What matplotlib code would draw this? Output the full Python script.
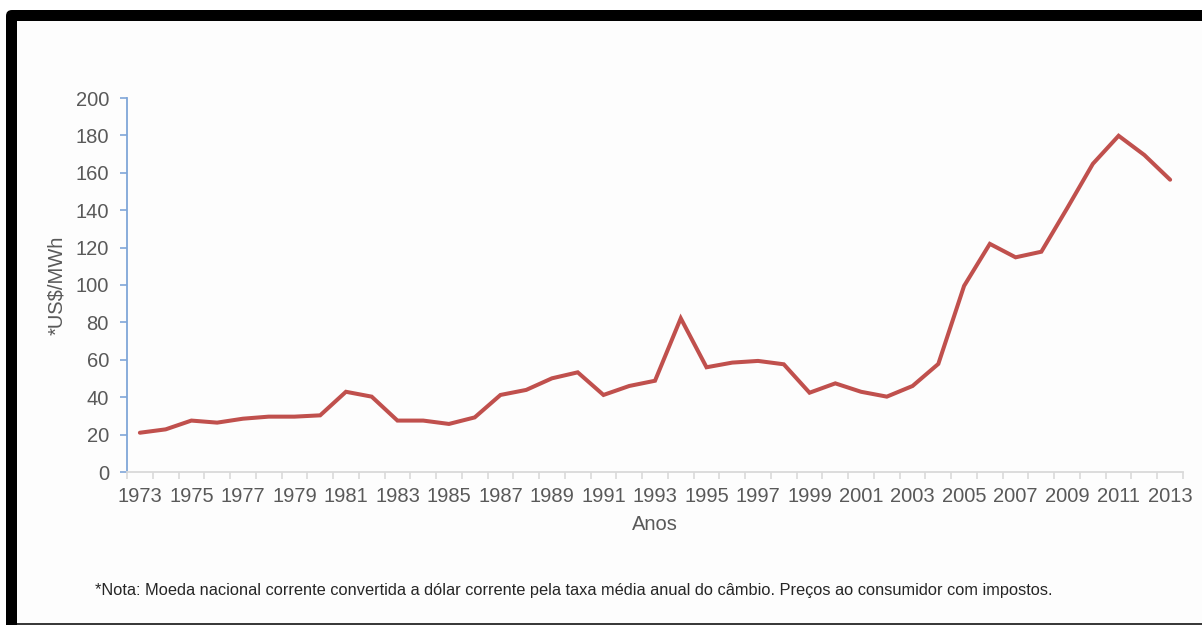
import matplotlib
matplotlib.use("Agg")
import matplotlib.pyplot as plt
from matplotlib.patches import FancyBboxPatch, Rectangle
from matplotlib.transforms import IdentityTransform

# Preço médio da eletricidade ao consumidor (US$/MWh), 1973-2013
years = list(range(1973, 2014))
prices = [21.0, 22.8, 27.5, 26.4, 28.5, 29.6, 29.6, 30.3, 42.9, 40.3,
          27.5, 27.5, 25.7, 29.2, 41.2, 43.9, 50.1, 53.3, 41.2, 46.0,
          48.8, 82.2, 56.0, 58.5, 59.4, 57.6, 42.4, 47.4, 42.9, 40.3,
          46.0, 57.8, 99.5, 122.0, 114.8, 117.8, 141.0, 164.8, 179.8, 169.5,
          156.3]
y_ticks = list(range(0, 201, 20))
x_labels = [str(y) for y in years[::2]]

W, H = 1202, 625
plt.rcParams["font.family"] = ["Liberation Sans", "DejaVu Sans"]

fig = plt.figure(figsize=(W / 100, H / 100), dpi=100, facecolor="white")

# Moldura: borda preta espessa em cima e à esquerda, linha escura embaixo
ident = IdentityTransform()
outer = FancyBboxPatch((6, -20), W + 40, H - 10 + 20,
                       boxstyle="round,pad=0,rounding_size=6",
                       transform=ident, facecolor="black", edgecolor="none",
                       zorder=-10)
inner = Rectangle((17, 2), W + 40, H - 21 - 2, transform=ident,
                  facecolor="#FDFDFD", edgecolor="none", zorder=-9)
bottom_line = Rectangle((17, 0), W + 40, 2, transform=ident,
                        facecolor="#3A3A3A", edgecolor="none", zorder=-9)
fig.patches.extend([outer, inner, bottom_line])

ax_l, ax_r, ax_t, ax_b = 127, 1183, 98, 472
ax = fig.add_axes([ax_l / W, 1 - ax_b / H, (ax_r - ax_l) / W, (ax_b - ax_t) / H])
ax.set_facecolor("none")
ax.set_zorder(5)

x = list(range(len(years)))
ax.plot(x, prices, color="#C0504D", linewidth=2.9, solid_joinstyle="miter",
        solid_capstyle="round")

ax.set_xlim(-0.5, len(years) - 0.5)
ax.set_ylim(0, 200)

for s in ("top", "right"):
    ax.spines[s].set_visible(False)
ax.spines["left"].set_color("#7FA6D8")
ax.spines["left"].set_linewidth(1.3)
ax.spines["bottom"].set_color("#D9D9D9")
ax.spines["bottom"].set_linewidth(1.3)

tick_color = "#595959"
ax.set_yticks(y_ticks)
ax.tick_params(axis="y", direction="out", length=5, width=1.2, color="#7FA6D8",
               labelsize=14.5, labelcolor=tick_color, pad=8)

# Marcas nos limites das categorias, rótulos a cada dois anos
ax.set_xticks([i - 0.5 for i in range(len(years) + 1)])
ax.set_xticklabels([])
ax.set_xticks(x[::2], minor=True)
ax.set_xticklabels(x_labels, minor=True)
ax.tick_params(axis="x", which="major", direction="out", length=5, width=1.2,
               color="#D9D9D9")
ax.tick_params(axis="x", which="minor", length=0, labelsize=14.5,
               labelcolor=tick_color, pad=11)

fig.text(57 / W, 1 - 285 / H, "*US$/MWh", rotation=90, ha="center", va="center",
         fontsize=14.5, color=tick_color)
fig.text(655 / W, 1 - 525 / H, "Anos", ha="center", va="center",
         fontsize=14.5, color=tick_color)
fig.text(95 / W, 1 - 590 / H,
         "*Nota: Moeda nacional corrente convertida a dólar corrente pela taxa média "
         "anual do câmbio. Preços ao consumidor com impostos.",
         ha="left", va="center", fontsize=11.8, color="#262626")

fig.savefig("out.png", dpi=100, facecolor="white")
